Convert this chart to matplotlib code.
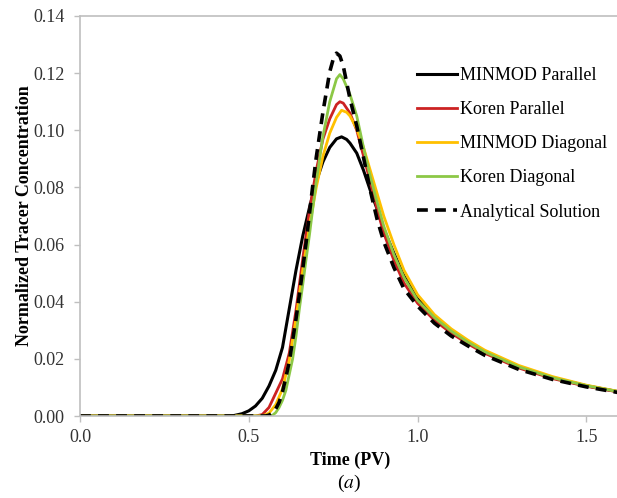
import matplotlib.pyplot as plt

# values (Time in PV, normalized concentration)
t_minmod_par = [0.0, 0.45, 0.48, 0.50, 0.52, 0.54, 0.56, 0.58, 0.60, 0.62, 0.64, 0.66, 0.68,
                0.70, 0.72, 0.74, 0.76, 0.775, 0.79, 0.80, 0.82, 0.84, 0.86, 0.88, 0.90, 0.93,
                0.96, 1.00, 1.05, 1.10, 1.15, 1.20, 1.30, 1.40, 1.50, 1.60]
c_minmod_par = [0.0, 0.0, 0.0008, 0.0018, 0.0035, 0.0062, 0.0105, 0.016, 0.024, 0.0375, 0.051,
                0.063, 0.073, 0.082, 0.089, 0.094, 0.097, 0.0977, 0.0968, 0.0955, 0.092, 0.086,
                0.079, 0.0725, 0.0655, 0.057, 0.049, 0.041, 0.0348, 0.0298, 0.0258, 0.0224,
                0.0172, 0.0134, 0.0106, 0.0084]

t_koren_par = [0.0, 0.52, 0.54, 0.56, 0.58, 0.60, 0.62, 0.64, 0.66, 0.68, 0.70, 0.72, 0.74,
               0.76, 0.77, 0.78, 0.80, 0.82, 0.84, 0.86, 0.88, 0.90, 0.93, 0.96, 1.00, 1.05,
               1.10, 1.15, 1.20, 1.30, 1.40, 1.50, 1.60]
c_koren_par = [0.0, 0.0, 0.0005, 0.003, 0.008, 0.013, 0.022, 0.037, 0.055, 0.072, 0.086, 0.097,
               0.104, 0.109, 0.110, 0.1095, 0.106, 0.100, 0.091, 0.082, 0.0725, 0.064, 0.0545,
               0.0465, 0.0395, 0.0335, 0.0290, 0.0252, 0.0219, 0.0168, 0.0131, 0.0104, 0.0083]

t_minmod_diag = [0.0, 0.54, 0.56, 0.58, 0.60, 0.62, 0.64, 0.66, 0.68, 0.70, 0.72, 0.74, 0.76,
                 0.775, 0.79, 0.80, 0.82, 0.84, 0.86, 0.88, 0.90, 0.93, 0.96, 1.00, 1.05, 1.10,
                 1.15, 1.20, 1.30, 1.40, 1.50, 1.60]
c_minmod_diag = [0.0, 0.0, 0.001, 0.004, 0.0095, 0.0195, 0.034, 0.051, 0.0665, 0.080, 0.091,
                 0.099, 0.1045, 0.107, 0.1063, 0.105, 0.1005, 0.094, 0.086, 0.078, 0.070, 0.060,
                 0.051, 0.0425, 0.0355, 0.0305, 0.0265, 0.0230, 0.0177, 0.0138, 0.0108, 0.0085]

t_koren_diag = [0.0, 0.56, 0.57, 0.58, 0.59, 0.60, 0.61, 0.62, 0.63, 0.64, 0.65, 0.66, 0.67,
                0.68, 0.69, 0.70, 0.72, 0.74, 0.76, 0.77, 0.78, 0.80, 0.82, 0.84, 0.86, 0.88,
                0.90, 0.93, 0.96, 1.00, 1.05, 1.10, 1.15, 1.20, 1.30, 1.40, 1.50, 1.60]
c_koren_diag = [0.0, 0.0, 0.0002, 0.0012, 0.003, 0.0055, 0.009, 0.0145, 0.020, 0.028, 0.0375,
                0.046, 0.055, 0.0635, 0.073, 0.082, 0.098, 0.110, 0.118, 0.1195, 0.118, 0.1125,
                0.105, 0.094, 0.0838, 0.075, 0.0665, 0.0565, 0.0485, 0.0405, 0.0345, 0.0297,
                0.0258, 0.0224, 0.0172, 0.0134, 0.0106, 0.0084]

t_analytical = [0.0, 0.55, 0.56, 0.57, 0.58, 0.59, 0.60, 0.61, 0.62, 0.63, 0.64, 0.65, 0.66,
                0.67, 0.68, 0.69, 0.70, 0.72, 0.74, 0.75, 0.76, 0.77, 0.78, 0.80, 0.82, 0.84,
                0.86, 0.88, 0.90, 0.93, 0.96, 1.00, 1.05, 1.10, 1.15, 1.20, 1.30, 1.40, 1.50,
                1.60]
c_analytical = [0.0, 0.0, 0.0003, 0.001, 0.0025, 0.0048, 0.0085, 0.0135, 0.019, 0.0265, 0.034,
                0.0425, 0.0515, 0.0608, 0.071, 0.081, 0.0905, 0.1065, 0.1205, 0.1248, 0.127,
                0.126, 0.1225, 0.111, 0.1015, 0.0905, 0.079, 0.069, 0.061, 0.052, 0.0445,
                0.0385, 0.0325, 0.0280, 0.0245, 0.0212, 0.0163, 0.0128, 0.0102, 0.0081]

plt.rcParams['font.family'] = 'Liberation Serif'
plt.rcParams['font.size'] = 13

fig = plt.figure(figsize=(6.17, 4.98), dpi=100)
ax = fig.add_axes([80 / 617, 82 / 498, 540 / 617, 400 / 498])

ax.plot(t_minmod_par, c_minmod_par, color='black', lw=2.2, label='MINMOD Parallel')
ax.plot(t_koren_par, c_koren_par, color='#cc2222', lw=2.0, label='Koren Parallel')
ax.plot(t_minmod_diag, c_minmod_diag, color='#ffc000', lw=2.0, label='MINMOD Diagonal')
ax.plot(t_koren_diag, c_koren_diag, color='#8cc846', lw=2.0, label='Koren Diagonal')
ax.plot(t_analytical, c_analytical, color='black', lw=2.6, ls=(0, (3, 2)),
        label='Analytical Solution')

ax.set_xlim(0, 1.6)
ax.set_ylim(0, 0.14)
ax.set_xticks([0.0, 0.5, 1.0, 1.5])
ax.set_yticks([0.0, 0.02, 0.04, 0.06, 0.08, 0.10, 0.12, 0.14])
ax.xaxis.set_major_formatter(plt.FormatStrFormatter('%.1f'))
ax.yaxis.set_major_formatter(plt.FormatStrFormatter('%.2f'))

for side in ['left', 'bottom', 'top']:
    ax.spines[side].set_color('#bfbfbf')
    ax.spines[side].set_linewidth(1.2)
ax.spines['right'].set_visible(False)
ax.tick_params(colors='#bfbfbf', labelcolor='#333333', length=4, width=1.0)
ax.tick_params(axis='y', pad=7)
ax.tick_params(axis='x', pad=5.5)

ax.set_xlabel('Time (PV)', fontweight='bold', labelpad=4)
ax.set_ylabel('Normalized Tracer Concentration', fontweight='bold', labelpad=0)
fig.text(349 / 617, 1 - 483 / 498, '($a$)', ha='center', va='center', fontsize=14,
         math_fontfamily='stix')

ax.legend(loc='upper left', bbox_to_anchor=(417 / 617, 1 - 67 / 498),
          bbox_transform=fig.transFigure, frameon=False, handlelength=2.2,
          handletextpad=0.2, labelspacing=0.95, borderaxespad=0, borderpad=0)

fig.savefig('out.png', dpi=100)
